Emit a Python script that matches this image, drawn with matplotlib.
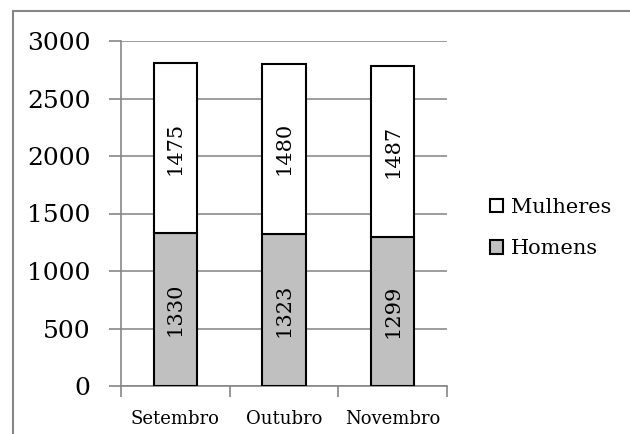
import matplotlib.pyplot as plt
from matplotlib.lines import Line2D

# data
months = ['Setembro', 'Outubro', 'Novembro']
homens = [1330, 1323, 1299]
mulheres = [1475, 1480, 1487]

plt.rcParams['font.family'] = ['DejaVu Serif']

fig = plt.figure(figsize=(6.3, 4.34), dpi=100)
ax = fig.add_axes([121 / 630, 1 - 386 / 434, 326 / 630, 345 / 434])

x = range(len(months))
b1 = ax.bar(x, homens, width=0.4, color='#c0c0c0', edgecolor='black',
            linewidth=1.5, label='Homens', zorder=3)
b2 = ax.bar(x, mulheres, width=0.4, bottom=homens, color='white',
            edgecolor='black', linewidth=1.5, label='Mulheres', zorder=3)

for i in x:
    ax.text(i, homens[i] / 2, str(homens[i]), rotation=90, ha='center',
            va='center', fontsize=15, zorder=4)
    ax.text(i, homens[i] + mulheres[i] / 2, str(mulheres[i]), rotation=90,
            ha='center', va='center', fontsize=15, zorder=4)

ax.set_xlim(-0.5, 2.5)
ax.set_ylim(0, 3000)
ax.set_yticks(range(0, 3001, 500))
ax.set_xticks(x)
ax.set_xticklabels(months, fontsize=13)
ax.tick_params(axis='y', labelsize=18, length=9, width=1.2, color='#868686', pad=13)
ax.tick_params(axis='x', length=0, pad=17)
# category boundary ticks
ax.set_xticks([-0.5, 0.5, 1.5, 2.5], minor=True)
ax.tick_params(axis='x', which='minor', length=8, width=1.2, color='#868686')

ax.grid(axis='y', color='#8c8c8c', linewidth=1.2, zorder=0)
for s in ['top', 'right']:
    ax.spines[s].set_visible(False)
for s in ['left', 'bottom']:
    ax.spines[s].set_color('#868686')
    ax.spines[s].set_linewidth(1.2)

ax.legend(handles=[b2, b1], loc='center left', bbox_to_anchor=(1.075, 0.458),
          frameon=False, fontsize=15, handlelength=0.6, handleheight=0.6,
          handletextpad=0.4, labelspacing=1.1)

# outer chart border (top and left visible)
fig.add_artist(Line2D([13 / 630, 13 / 630], [0, 1 - 11 / 434], color='#868686', lw=1.5))
fig.add_artist(Line2D([13 / 630, 1], [1 - 11 / 434, 1 - 11 / 434], color='#868686', lw=1.5))

plt.savefig('out.png', dpi=100)
